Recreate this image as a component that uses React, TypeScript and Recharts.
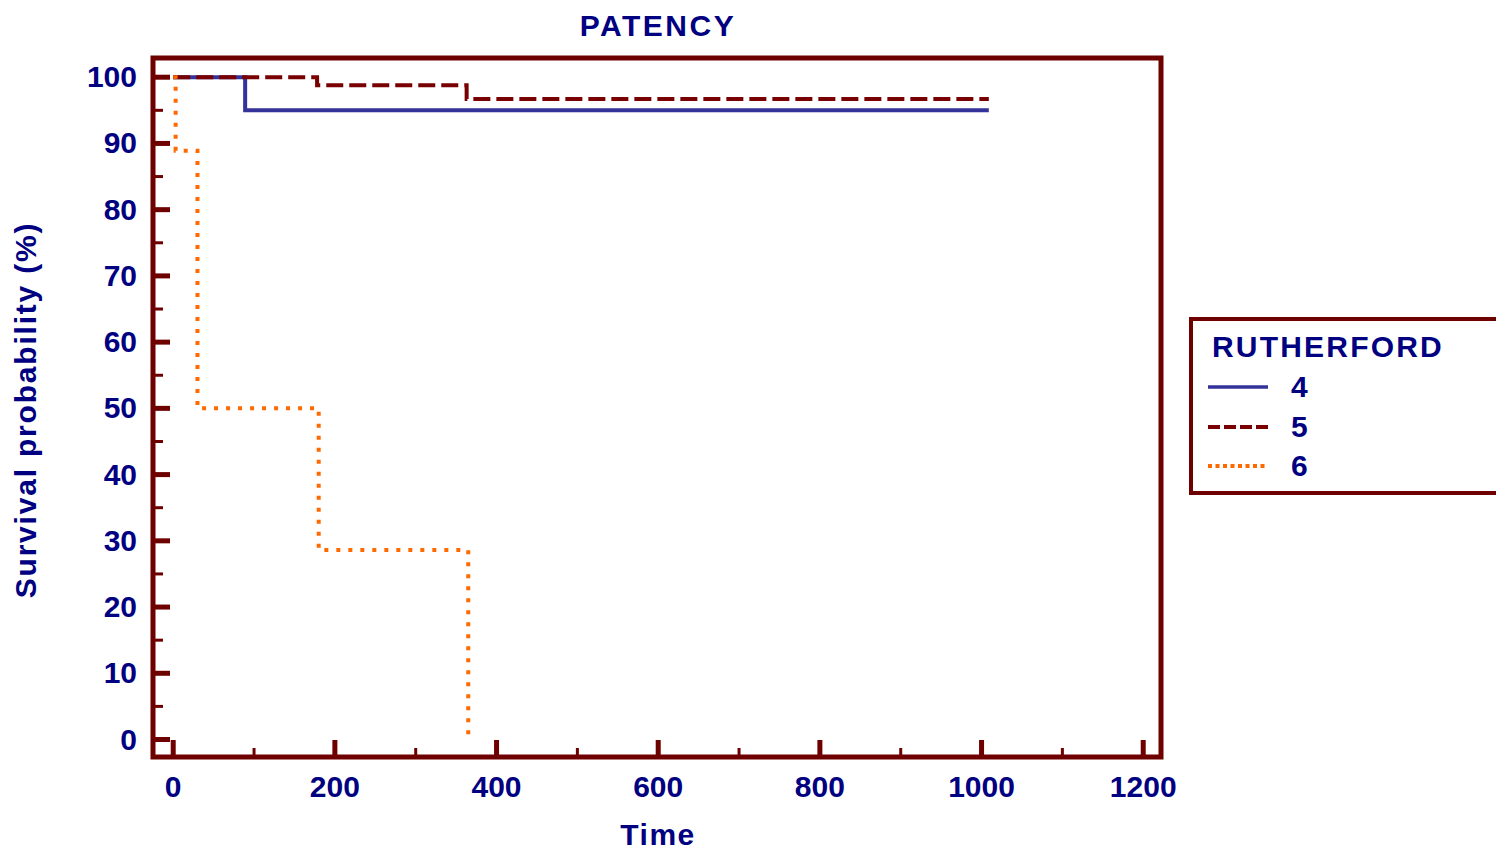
import { LineChart, Line, XAxis, YAxis, ReferenceArea } from "recharts";

// Kaplan-Meier steps, time in days, survival in %
const rutherford4Time = [0, 89, 1009];
const rutherford4Surv = [100, 95, 95];
const rutherford5Time = [0, 178, 363, 1009];
const rutherford5Surv = [100, 98.8, 96.7, 96.7];
const rutherford6Time = [0, 3, 30, 180, 365];
const rutherford6Surv = [100, 88.9, 50, 28.6, 0];

const xTicks = [0, 100, 200, 300, 400, 500, 600, 700, 800, 900, 1000, 1100, 1200];
const yTicks = [0, 5, 10, 15, 20, 25, 30, 35, 40, 45, 50, 55, 60, 65, 70, 75, 80, 85, 90, 95, 100];
const xDomain = [-25, 1222];
const yDomain = [-2.64, 102.9];

const legendTitle = "RUTHERFORD";
const seriesNames = ["4", "5", "6"];

const toPoints = (t: number[], s: number[]) => t.map((time, i) => ({ time, surv: s[i] }));

const FRAME = "#6e0000";
const NAVY = "#000080";
const FONT = "'Liberation Sans', Arial, sans-serif";

const XTick = (props: any) => {
  const { x, y, payload } = props;
  const major = payload.value % 200 === 0;
  return (
    <g>
      <line x1={x} x2={x} y1={y} y2={y - (major ? 17 : 9)} stroke={FRAME} strokeWidth={major ? 5 : 3} />
      {major && (
        <text x={x} y={y + 40} textAnchor="middle" fill={NAVY} fontSize={30} fontWeight="bold" fontFamily={FONT}>
          {payload.value}
        </text>
      )}
    </g>
  );
};

const YTick = (props: any) => {
  const { x, y, payload } = props;
  const major = payload.value % 10 === 0;
  return (
    <g>
      <line x1={x} x2={x + (major ? 17 : 10)} y1={y} y2={y} stroke={FRAME} strokeWidth={major ? 5 : 3} />
      {major && (
        <text x={x - 16} y={y + 10} textAnchor="end" fill={NAVY} fontSize={30} fontWeight="bold" fontFamily={FONT}>
          {payload.value}
        </text>
      )}
    </g>
  );
};

const textStyle = {
  position: "absolute" as const,
  color: NAVY,
  fontFamily: FONT,
  fontWeight: "bold" as const,
  fontSize: 30,
  lineHeight: "30px",
  whiteSpace: "nowrap" as const,
};

export default function App() {
  return (
    <div style={{ position: "absolute", left: 0, top: 0, width: 1496, height: 850, background: "#fff", overflow: "hidden" }}>
      <LineChart width={1496} height={850} margin={{ top: 58, right: 335, bottom: 33, left: 53 }}>
        <XAxis
          type="number"
          dataKey="time"
          domain={xDomain}
          ticks={xTicks}
          interval={0}
          allowDataOverflow
          height={60}
          axisLine={false}
          tickLine={false}
          tickSize={0}
          tickMargin={0}
          tick={(p: any) => <XTick {...p} />}
        />
        <YAxis
          type="number"
          dataKey="surv"
          domain={yDomain}
          ticks={yTicks}
          interval={0}
          allowDataOverflow
          width={100}
          axisLine={false}
          tickLine={false}
          tickSize={0}
          tickMargin={0}
          tick={(p: any) => <YTick {...p} />}
        />
        <ReferenceArea
          x1={xDomain[0]}
          x2={xDomain[1]}
          y1={yDomain[0]}
          y2={yDomain[1]}
          fill="none"
          fillOpacity={0}
          stroke={FRAME}
          strokeWidth={5}
        />
        <Line
          data={toPoints(rutherford4Time, rutherford4Surv)}
          dataKey="surv"
          type="stepAfter"
          stroke="#333399"
          strokeWidth={4}
          dot={false}
          activeDot={false}
          isAnimationActive={false}
        />
        <Line
          data={toPoints(rutherford5Time, rutherford5Surv)}
          dataKey="surv"
          type="stepAfter"
          stroke="#780000"
          strokeWidth={4}
          strokeDasharray="17 6"
          dot={false}
          activeDot={false}
          isAnimationActive={false}
        />
        <Line
          data={toPoints(rutherford6Time, rutherford6Surv)}
          dataKey="surv"
          type="stepAfter"
          stroke="#ff6a00"
          strokeWidth={4}
          strokeDasharray="4 8"
          dot={false}
          activeDot={false}
          isAnimationActive={false}
        />
      </LineChart>

      <div style={{ ...textStyle, left: 658, top: 11, transform: "translateX(-50%)", letterSpacing: 2.5 }}>PATENCY</div>
      <div style={{ ...textStyle, left: 658, top: 820, transform: "translateX(-50%)", letterSpacing: 1.5 }}>Time</div>
      <div
        style={{
          ...textStyle,
          left: 26,
          top: 410,
          transform: "translate(-50%, -50%) rotate(-90deg)",
          letterSpacing: 1.8,
        }}
      >
        Survival probability (%)
      </div>

      <div
        style={{
          position: "absolute",
          left: 1189,
          top: 317,
          width: 340,
          height: 178,
          border: `4px solid ${FRAME}`,
          boxSizing: "border-box",
        }}
      />
      <div style={{ ...textStyle, left: 1212, top: 332, letterSpacing: 2.2 }}>{legendTitle}</div>
      {seriesNames.map((name, i) => {
        const cy = [387, 427, 466][i];
        const stroke = ["#333399", "#780000", "#ff6a00"][i];
        const dash = [undefined, "12 4", "4 3.5"][i];
        return (
          <div key={name}>
            <svg style={{ position: "absolute", left: 1206, top: cy - 4 }} width={64} height={8}>
              <line x1={2} x2={62} y1={4} y2={4} stroke={stroke} strokeWidth={i === 0 ? 3.5 : 4} strokeDasharray={dash} />
            </svg>
            <div style={{ ...textStyle, left: 1291, top: cy - 15 }}>{name}</div>
          </div>
        );
      })}
    </div>
  );
}
